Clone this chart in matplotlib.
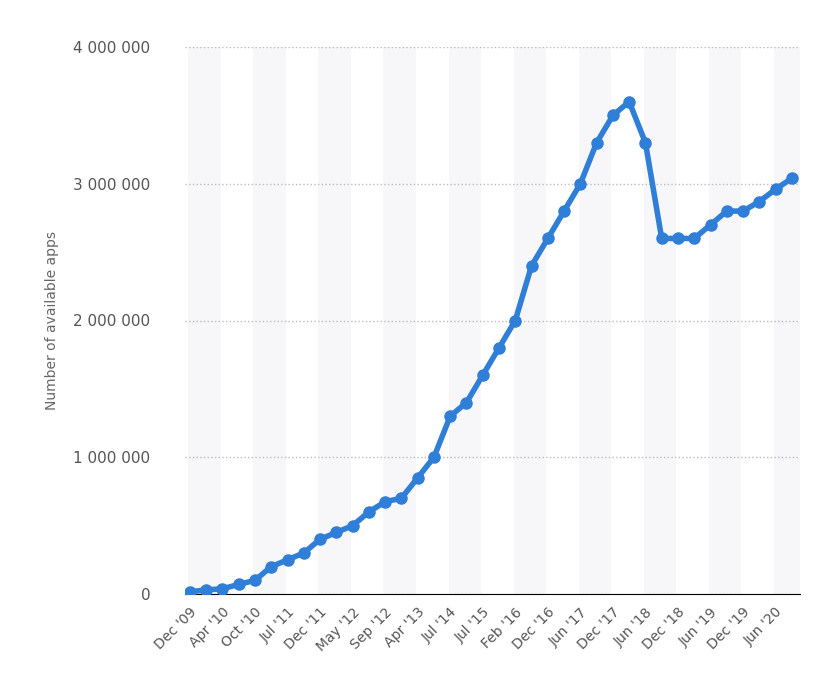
import matplotlib
matplotlib.use("Agg")
import matplotlib.pyplot as plt
from matplotlib.ticker import FuncFormatter

values = [16000, 30000, 38000, 70000, 100000, 200000, 250000, 300000, 400000, 450000,
          500000, 600000, 675000, 700000, 850000, 1000000, 1300000, 1400000, 1600000, 1800000,
          2000000, 2400000, 2600000, 2800000, 3000000, 3300000, 3500000, 3600000, 3300000, 2600000,
          2600000, 2600000, 2700000, 2800000, 2800000, 2870000, 2960000, 3040000]
tick_labels = ["Dec '09", "Apr '10", "Oct '10", "Jul '11", "Dec '11", "May '12", "Sep '12", "Apr '13",
               "Jul '14", "Jul '15", "Feb '16", "Dec '16", "Jun '17", "Dec '17", "Jun '18", "Dec '18",
               "Jun '19", "Dec '19", "Jun '20"]

fig = plt.figure(figsize=(8.36, 6.94), dpi=100)
ax = fig.add_axes([185/836, 100/694, 615/836, 547/694])
x = list(range(len(values)))
for k in range(0, len(values), 4):
    ax.axvspan(k - 0.1, k + 1.9, color="#f7f7f9", zorder=0, lw=0)
ax.plot(x, values, color="#2f7ed8", lw=4, marker="o", ms=8, zorder=3, solid_capstyle="round")
ax.set_xlim(-0.3, len(values) - 0.5)
ax.set_ylim(0, 4000000)
ax.set_yticks([0, 1000000, 2000000, 3000000, 4000000])
ax.yaxis.set_major_formatter(FuncFormatter(lambda v, p: f"{int(v):,}".replace(",", " ")))
ax.grid(axis="y", color="#bbbbbb", ls=":", lw=1)
ax.set_xticks(x[::2])
ax.set_xticklabels(tick_labels, rotation=45, ha="right", rotation_mode="anchor", fontsize=10, color="#555555")
ax.tick_params(axis="y", length=0, labelsize=11, labelcolor="#555555", pad=25)
ax.tick_params(axis="x", length=0, pad=8)
for s in ["top", "right", "left"]:
    ax.spines[s].set_visible(False)
ax.spines["bottom"].set_color("#000000")
ax.set_ylabel("Number of available apps", fontsize=10, color="#666666", labelpad=10)
fig.savefig("out.png", dpi=100)
